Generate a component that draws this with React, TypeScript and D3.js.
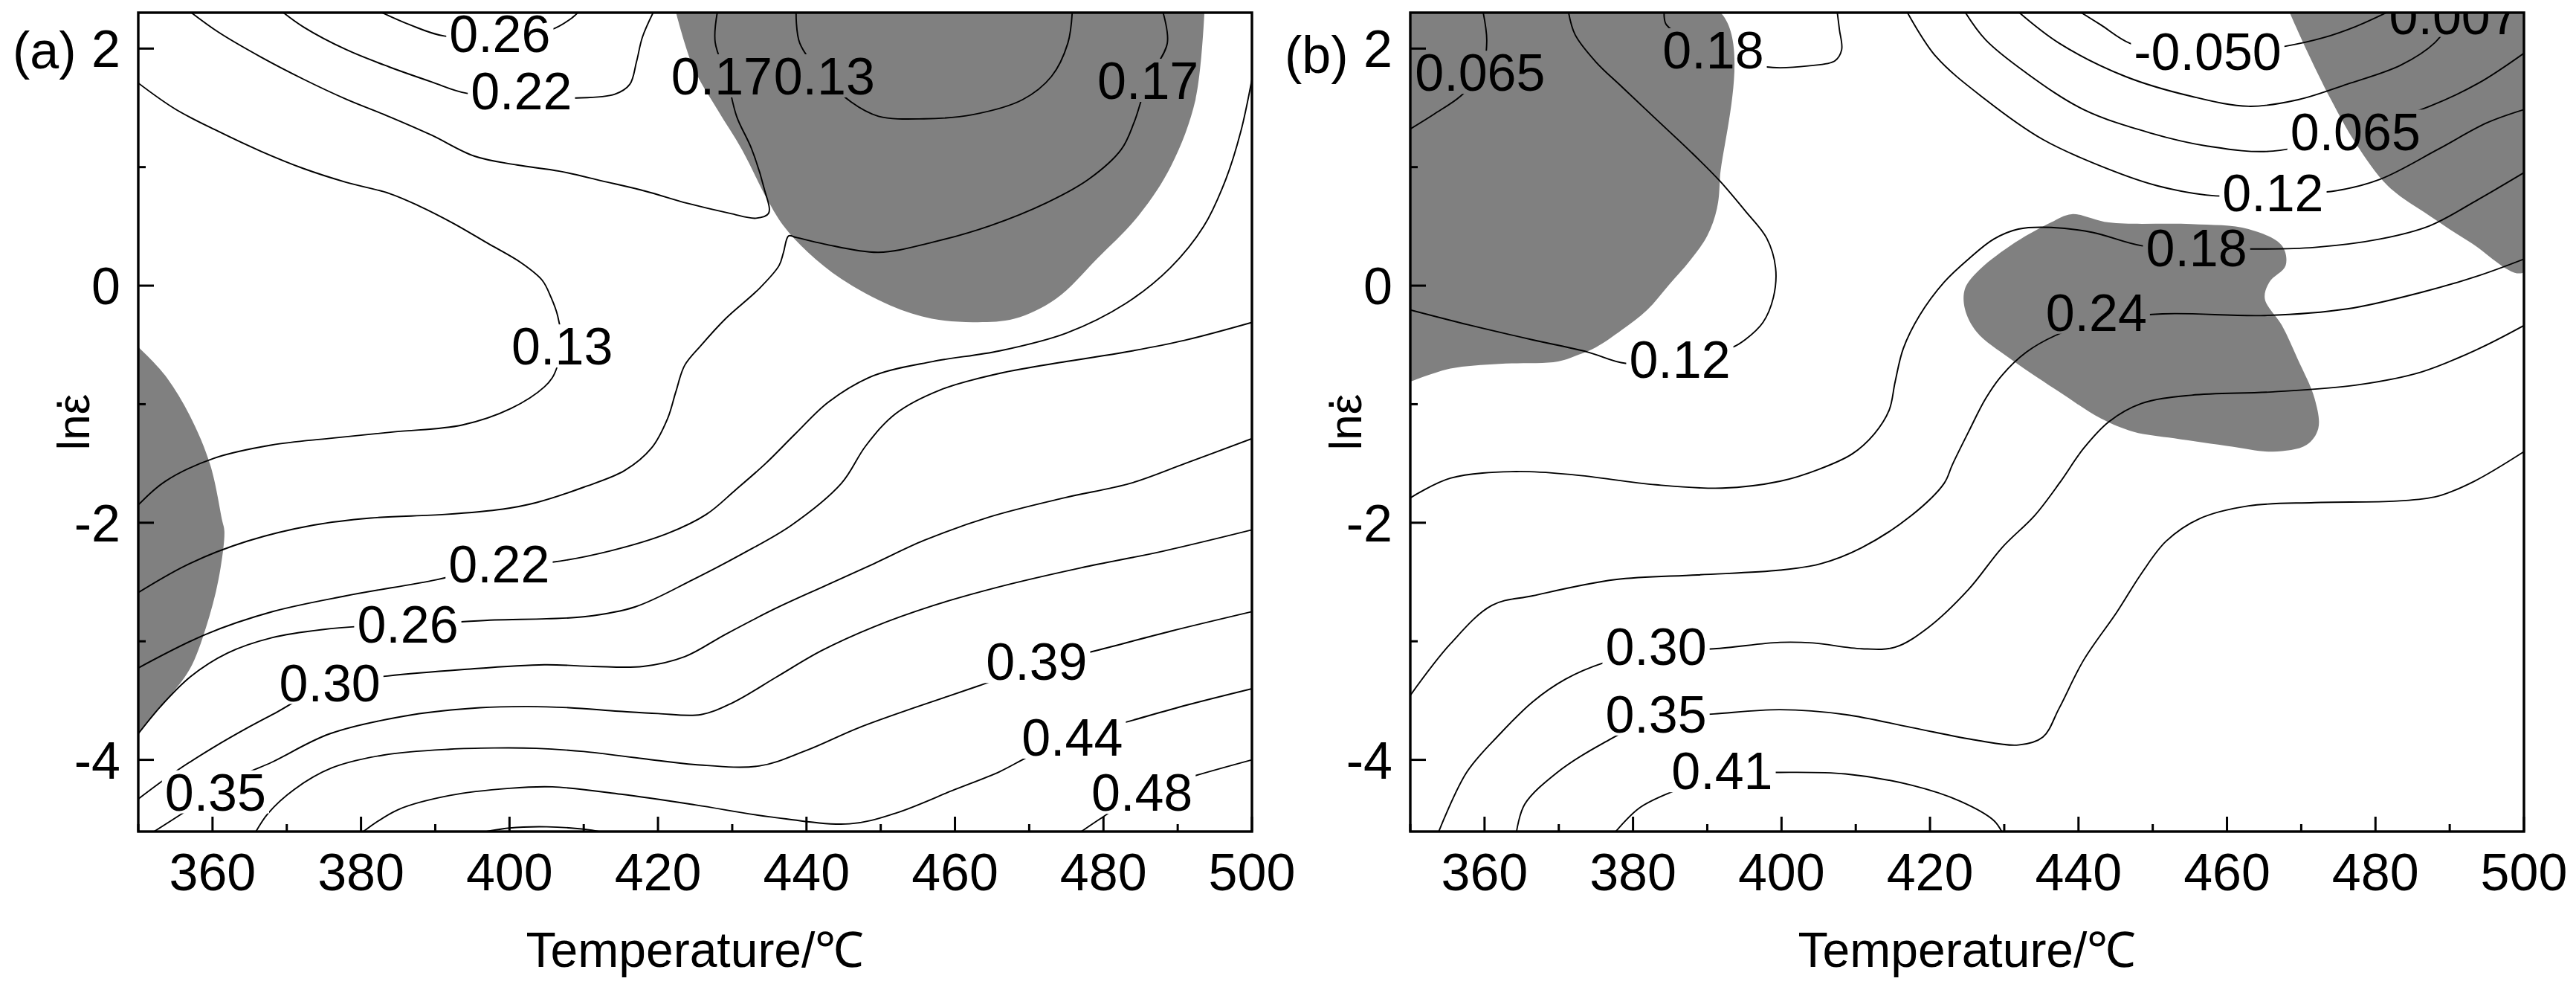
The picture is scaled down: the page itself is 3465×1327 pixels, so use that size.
import * as d3 from 'd3';

// axis setup shared by both maps
const tempDomain = [350, 500];
const rateDomain = [-4.605, 2.303];
const xMajor = [360, 380, 400, 420, 440, 460, 480, 500];
const xMinor = [350, 370, 390, 410, 430, 450, 470, 490];
const yMajor = [-4, -2, 0, 2];
const yMinor = [-3, -1, 1];

// ---- (a) contour lines, points are [T, ln strain rate]
const a026top = [[382.6, 2.31], [386.6, 2.2], [391.2, 2.106], [398.7, 2.11], [405.6, 2.159], [408.5, 2.263], [409.3, 2.31]];
const a022top = [[369.4, 2.31], [372.3, 2.18], [378, 1.991], [383.8, 1.845], [389.5, 1.719], [394.1, 1.625], [401.6, 1.6], [409, 1.583], [414.2, 1.615], [416.2, 1.698], [417.1, 1.887], [417.9, 2.096], [419.4, 2.31]];
const a017tip = [[357, 2.31], [360.8, 2.138], [366.5, 1.929], [372.3, 1.74], [378, 1.573], [383.8, 1.426], [389.5, 1.27], [395.3, 1.092], [401, 1.018], [406.7, 0.966], [412.5, 0.883], [418.2, 0.799], [424, 0.694], [429.7, 0.61], [433.2, 0.569], [434.9, 0.61], [434.3, 0.82], [432.6, 1.155], [430.6, 1.427], [429.3, 1.75], [427.7, 2.054], [428, 2.31]];
const a013 = [[350, 1.709], [355, 1.489], [360.8, 1.301], [366.5, 1.134], [372.3, 0.987], [378, 0.872], [383.8, 0.778], [387.8, 0.673], [392.4, 0.527], [397, 0.36], [401.6, 0.192], [404.4, 0.046], [405.6, -0.1], [406.5, -0.258], [407, -0.5], [406, -0.75], [404.7, -0.854], [400.2, -1.036], [393.6, -1.176], [384.7, -1.232], [375.8, -1.288], [368, -1.344], [360.2, -1.456], [353.6, -1.652], [350, -1.85]];
const a013in = [[438.6, 2.31], [439.1, 2.045], [442.4, 1.765], [446, 1.55], [449.7, 1.429], [455.8, 1.407], [462.4, 1.443], [469.1, 1.569], [473, 1.765], [475.2, 2.045], [475.8, 2.31]];
const a017 = [[488, 2.31], [488.6, 2.045], [486, 1.732], [484.1, 1.373], [482.4, 1.149], [478, 0.897], [472.4, 0.701], [464.7, 0.505], [456.9, 0.365], [449.7, 0.281], [442.4, 0.351], [438.6, 0.407], [437.6, 0.42], [436.9, 0.28], [436.3, 0.169], [433.6, -0.027], [429.1, -0.279], [425.8, -0.504], [423.6, -0.672], [422.4, -0.896], [421.3, -1.12], [419.1, -1.372], [415.5, -1.56], [410, -1.7], [403.6, -1.83], [399.1, -1.885], [391.3, -1.93], [381.3, -1.96], [373.6, -2.02], [364.7, -2.155], [356.9, -2.345], [350, -2.589]];
const a022 = [[500, 1.74], [498.5, 1.3], [496.5, 0.9], [493.5, 0.5], [489, 0.15], [483, -0.15], [475, -0.4], [466, -0.55], [457, -0.64], [449, -0.76], [443, -0.98], [438.5, -1.25], [434.5, -1.5], [430.5, -1.72], [426.5, -1.93], [421.3, -2.09], [413.6, -2.237], [405.8, -2.332], [398.6, -2.36], [390.2, -2.48], [378, -2.616], [368, -2.751], [359.1, -2.941], [350, -3.225]];
const a026 = [[350, -3.78], [353, -3.55], [357, -3.3], [362, -3.1], [368, -2.97], [375, -2.9], [381, -2.87], [386.3, -2.852], [392, -2.84], [398, -2.82], [405, -2.81], [410.2, -2.792], [416.9, -2.71], [424.7, -2.48], [431.3, -2.264], [438, -2.02], [444.7, -1.668], [448, -1.35], [452, -1.08], [458, -0.88], [466, -0.74], [475, -0.64], [483, -0.56], [491, -0.46], [500, -0.31]];
const a030 = [[350, -4.33], [355, -4.1], [360, -3.9], [365, -3.72], [368.6, -3.6], [375.8, -3.36], [383.6, -3.293], [393.6, -3.239], [404.7, -3.198], [411.3, -3.212], [418, -3.212], [423.6, -3.13], [429.1, -2.941], [435.8, -2.724], [442.4, -2.535], [449.1, -2.345], [455.8, -2.15], [464.7, -1.95], [474.7, -1.79], [483.6, -1.668], [491, -1.5], [500, -1.29]];
const a035 = [[352, -4.61], [356, -4.45], [360.4, -4.27], [364, -4.13], [368, -4.02], [375.8, -3.78], [386.9, -3.62], [396, -3.56], [402.4, -3.55], [408, -3.56], [414.7, -3.59], [420, -3.61], [425.8, -3.618], [430, -3.52], [436, -3.3], [442, -3.08], [449, -2.88], [457, -2.7], [466, -2.54], [477, -2.38], [488, -2.24], [500, -2.06]];
const a039 = [[365.8, -4.61], [367.5, -4.45], [371, -4.25], [376, -4.07], [383, -3.96], [392, -3.91], [398, -3.9], [403.6, -3.903], [410, -3.93], [418, -3.99], [425, -4.04], [433.6, -4.052], [440, -3.92], [447, -3.73], [455, -3.55], [463, -3.38], [471, -3.2], [479.1, -3.077], [489.1, -2.914], [500, -2.75]];
const a044 = [[380.2, -4.61], [385, -4.42], [392, -4.3], [400, -4.24], [405.8, -4.228], [415, -4.29], [425, -4.38], [435, -4.48], [445.8, -4.54], [452, -4.45], [460, -4.25], [466, -4.1], [470, -3.97], [475.8, -3.81], [483.6, -3.672], [491.3, -3.537], [500, -3.4]];
const a048cap = [[396.5, -4.61], [400, -4.575], [405, -4.565], [410, -4.585], [412.5, -4.61]];
const a048 = [[476.9, -4.61], [479.5, -4.5], [485.2, -4.274], [492.4, -4.133], [500, -4.0]];

const aGrayLeft = [[350, -0.518], [353.6, -0.756], [356.9, -1.092], [359.7, -1.513], [361.3, -1.98], [361.6, -2.074], [360.8, -2.48], [359.1, -2.887], [356.9, -3.239], [353.6, -3.51], [350, -3.78]];
const aGrayTop = [[422.4, 2.31], [424.7, 1.85], [428, 1.485], [431.3, 1.149], [434.7, 0.729], [436.9, 0.505], [440.2, 0.281], [444.7, 0.057], [451.3, -0.167], [456.9, -0.279], [462.4, -0.308], [468, -0.279], [473.6, -0.111], [479.1, 0.225], [484.7, 0.589], [489.1, 1.009], [492.4, 1.569], [493.6, 2.31]];

const aLabels = [
  ['0.26', 398.7, 2.13], ['0.22', 401.6, 1.646], ['0.17', 428.6, 1.77], ['0.13', 442.4, 1.77],
  ['0.17', 486, 1.732], ['0.13', 407.1, -0.509], ['0.22', 398.6, -2.345], ['0.26', 386.3, -2.852],
  ['0.30', 375.8, -3.347], ['0.35', 360.4, -4.27], ['0.39', 471, -3.17], ['0.44', 475.8, -3.808],
  ['0.48', 485.2, -4.274],
];

// ---- (b) contour lines
const b0065L = [[359.8, 2.31], [360.3, 2.06], [359.6, 1.8], [356.8, 1.6], [353.2, 1.447], [350, 1.322]];
const b012L = [[371.3, 2.31], [372.2, 2.117], [375, 1.887], [378.5, 1.677], [383.1, 1.405], [387.7, 1.134], [391.7, 0.882], [395.1, 0.632], [398, 0.401], [399.2, 0.15], [398.9, -0.101], [397.5, -0.31], [395.1, -0.456], [393.4, -0.52], [386.3, -0.62], [379, -0.655], [373.9, -0.56], [366.4, -0.456], [357.8, -0.33], [350, -0.205]];
const b018top = [[384.2, 2.31], [384.5, 2.2], [390.8, 1.99], [398, 1.845], [403.8, 1.855], [407.2, 1.897], [408.1, 1.99], [407.8, 2.16], [407.5, 2.31]];
const bm0050 = [[440.2, 2.31], [443, 2.2], [446.9, 2.045], [452, 1.98], [457.4, 1.96], [463, 1.98], [467.9, 2.02], [472.9, 2.09], [477.3, 2.185], [481.7, 2.31]];
const b0007 = [[431.9, 2.31], [437.4, 2.045], [446.3, 1.765], [455.2, 1.597], [462.9, 1.513], [469.6, 1.569], [476.2, 1.7], [483.4, 1.86], [488, 2.05], [491, 2.31]];
const b0065R = [[424.7, 2.31], [427.5, 2.073], [433, 1.793], [440.7, 1.485], [449.6, 1.289], [457.4, 1.177], [466.2, 1.135], [477, 1.3], [487.3, 1.513], [493.9, 1.709], [500, 1.961]];
const b012R = [[416.9, 2.31], [420.8, 1.933], [427.5, 1.569], [435.2, 1.233], [444.1, 0.981], [450.7, 0.841], [458.5, 0.757], [466.2, 0.77], [474.5, 0.799], [480.6, 0.897], [488.4, 1.149], [495, 1.373], [500, 1.485]];
const b018 = [[500, 0.953], [493.9, 0.729], [487.3, 0.505], [480.6, 0.393], [471.8, 0.323], [463.5, 0.309], [455.9, 0.32], [448.5, 0.337], [441.9, 0.449], [436.3, 0.491], [431.9, 0.477], [428.6, 0.393], [425.2, 0.225], [421.9, 0.029], [418.6, -0.251], [416.4, -0.531], [415.3, -0.812], [414.5, -1.05], [412.5, -1.25], [409.5, -1.42], [405, -1.55], [399.8, -1.65], [392, -1.708], [383.1, -1.68], [372, -1.596], [364.3, -1.568], [355.4, -1.624], [350, -1.79]];
const b024 = [[500, 0.224], [493.9, 0.084], [486.2, -0.056], [476.2, -0.196], [465.1, -0.252], [451.3, -0.238], [442.4, -0.3], [436.9, -0.42], [433, -0.56], [429.7, -0.756], [427.5, -0.952], [425.2, -1.232], [423, -1.512], [421.9, -1.668], [417.5, -1.939], [410.8, -2.21], [405.3, -2.345], [399.8, -2.4], [388.7, -2.44], [377.6, -2.48], [366.5, -2.616], [361, -2.697], [355.4, -3.022], [350, -3.456]];
const b030 = [[353.8, -4.61], [357.6, -4.105], [362.1, -3.78], [366.5, -3.51], [370.9, -3.32], [375.9, -3.185], [383.1, -3.08], [390.9, -3.063], [399.8, -3.009], [404.2, -3.014], [410.8, -3.063], [415.3, -3.05], [419.7, -2.887], [425.2, -2.562], [429.7, -2.21], [434.1, -1.939], [437.5, -1.66], [440.7, -1.372], [444.1, -1.148], [448.5, -0.994], [455.2, -0.924], [466.2, -0.896], [477.3, -0.84], [486.2, -0.728], [493.9, -0.532], [500, -0.336]];
const b035 = [[364.3, -4.61], [365.4, -4.376], [369.8, -4.106], [375.9, -3.862], [383.1, -3.65], [390.9, -3.613], [399.8, -3.577], [408.6, -3.618], [417.5, -3.727], [426.3, -3.835], [431.9, -3.875], [435.2, -3.808], [437.4, -3.564], [440.7, -3.158], [445.2, -2.751], [448.5, -2.426], [451.8, -2.156], [456.3, -1.966], [462.9, -1.858], [471.8, -1.83], [482.9, -1.817], [488.4, -1.776], [493.3, -1.65], [500, -1.4]];
const b041 = [[377.6, -4.61], [380.9, -4.404], [385.3, -4.268], [392, -4.12], [399.8, -4.106], [408.6, -4.119], [417.5, -4.214], [424.1, -4.35], [428.6, -4.512], [429.7, -4.61]];

const bGrayLeft = [[350, 2.31], [391.7, 2.31], [391.7, 0.9], [391.3, 0.65], [390, 0.42], [387.7, 0.213], [384.8, 0.004], [381.9, -0.205], [378.5, -0.373], [375, -0.52], [372.7, -0.582], [369.9, -0.64], [362, -0.66], [355.4, -0.7], [350, -0.81]];
const bGrayMid = [[439.1, 0.603], [444.1, 0.533], [455.2, 0.519], [462.9, 0.477], [467.4, 0.337], [467.9, 0.169], [465.7, 0.029], [465.1, -0.111], [467.4, -0.336], [469.5, -0.616], [471.8, -0.952], [472.3, -1.204], [470.7, -1.344], [466.2, -1.4], [460.7, -1.358], [452.9, -1.288], [447.4, -1.232], [443, -1.12], [437.4, -0.896], [430.8, -0.616], [426.3, -0.392], [424.7, -0.196], [424.7, -0.028], [426.3, 0.112], [430.8, 0.336], [436.3, 0.533]];
const bGrayRight = [[468.4, 2.31], [470.7, 1.99], [474, 1.57], [477.3, 1.205], [481.7, 0.84], [487.3, 0.589], [492.8, 0.365], [500, 0.113], [500, 2.31]];

const bLabels = [
  ['0.065', 359.4, 1.8], ['0.18', 390.8, 1.99], ['-0.050', 457.4, 1.975], ['0.007', 490.6, 2.28],
  ['0.065', 477.3, 1.303], ['0.12', 466.2, 0.785], ['0.18', 455.9, 0.323], ['0.24', 442.4, -0.224],
  ['0.12', 386.3, -0.62], ['0.30', 383.1, -3.04], ['0.35', 383.1, -3.613], ['0.41', 392, -4.092],
];

const FONT = 'Liberation Sans, Arial, sans-serif';
const plotTop = 17;
const plotBottom = 1118;
const plotW = 1498;

// rough Arial advance widths, used to cut the lines under a label
function labelWidth(s, size) {
  let w = 0;
  for (const c of s) w += c === '.' ? 0.278 : c === '-' ? 0.333 : 0.556;
  return w * size;
}

function Panel({ id, left, lines, grays, closedGrays, labels, tag, tagY }) {
  const x = d3.scaleLinear().domain(tempDomain).range([left, left + plotW]);
  const y = d3.scaleLinear().domain(rateDomain).range([plotBottom, plotTop]);
  const line = d3.line().x(d => x(d[0])).y(d => y(d[1])).curve(d3.curveCatmullRom.alpha(0.5));
  const closed = d3.line().x(d => x(d[0])).y(d => y(d[1])).curve(d3.curveCatmullRomClosed.alpha(0.5));
  const fs = 70;

  return (
    <g>
      <defs>
        <clipPath id={`clip-${id}`}>
          <rect x={left} y={plotTop} width={plotW} height={plotBottom - plotTop} />
        </clipPath>
        <mask id={`mask-${id}`} maskUnits="userSpaceOnUse" x={0} y={0} width={3465} height={1327}>
          <rect x={0} y={0} width={3465} height={1327} fill="white" />
          {labels.map((l, i) => {
            const w = labelWidth(l[0], fs) + 8;
            return <rect key={i} x={x(l[1]) - w / 2} y={y(l[2]) - 29} width={w} height={58} fill="black" />;
          })}
        </mask>
      </defs>

      <g clipPath={`url(#clip-${id})`}>
        {grays.map((g, i) => <path key={i} d={line(g) + 'Z'} fill="#808080" />)}
        {closedGrays.map((g, i) => <path key={'c' + i} d={closed(g)} fill="#808080" />)}
        <g mask={`url(#mask-${id})`}>
          {lines.map((l, i) => <path key={i} d={line(l)} fill="none" stroke="#000" strokeWidth={1.9} />)}
        </g>
        {labels.map((l, i) => (
          <text key={i} x={x(l[1])} y={y(l[2])} dy="0.36em" textAnchor="middle" fontSize={fs} fontFamily={FONT} fill="#000">{l[0]}</text>
        ))}
      </g>

      {/* frame */}
      <rect x={left} y={plotTop} width={plotW} height={plotBottom - plotTop} fill="none" stroke="#000" strokeWidth={3.4} />

      {/* ticks point inward */}
      {xMajor.map(v => <line key={'xM' + v} x1={x(v)} x2={x(v)} y1={plotBottom} y2={plotBottom - 20} stroke="#000" strokeWidth={3} />)}
      {xMinor.map(v => <line key={'xm' + v} x1={x(v)} x2={x(v)} y1={plotBottom} y2={plotBottom - 10} stroke="#000" strokeWidth={3} />)}
      {yMajor.map(v => <line key={'yM' + v} x1={left} x2={left + 21} y1={y(v)} y2={y(v)} stroke="#000" strokeWidth={3} />)}
      {yMinor.map(v => <line key={'ym' + v} x1={left} x2={left + 10} y1={y(v)} y2={y(v)} stroke="#000" strokeWidth={3} />)}

      {xMajor.map(v => (
        <text key={'xl' + v} x={x(v)} y={1197} textAnchor="middle" fontSize={70} fontFamily={FONT}>{v}</text>
      ))}
      {yMajor.map(v => (
        <text key={'yl' + v} x={left - 24} y={y(v) + 25} textAnchor="end" fontSize={70} fontFamily={FONT}>{v}</text>
      ))}

      <text x={left + plotW / 2} y={1300} textAnchor="middle" fontSize={66} fontFamily={FONT}>Temperature/℃</text>
      <text transform={`translate(${left - 66},${(plotTop + plotBottom) / 2}) rotate(-90)`} textAnchor="middle" fontSize={62} fontFamily={FONT}>
        lnε<tspan dx="-0.37em" dy="-0.6em">.</tspan><tspan dy="0.6em" dx="0.1em"> </tspan>
      </text>
      <text x={left - 169} y={tagY} fontSize={70} fontFamily={FONT}>{tag}</text>
    </g>
  );
}

export default function App() {
  return (
    <svg width={3465} height={1327} style={{ position: 'absolute', left: 0, top: 0, background: '#fff' }}>
      <rect width={3465} height={1327} fill="#fff" />
      <Panel
        id="a"
        left={186}
        lines={[a026top, a022top, a017tip, a013, a013in, a017, a022, a026, a030, a035, a039, a044, a048cap, a048]}
        grays={[aGrayLeft, aGrayTop]}
        closedGrays={[]}
        labels={aLabels}
        tag="(a)"
        tagY={92}
      />
      <Panel
        id="b"
        left={1897}
        lines={[b0065L, b012L, b018top, bm0050, b0007, b0065R, b012R, b018, b024, b030, b035, b041]}
        grays={[bGrayLeft, bGrayRight]}
        closedGrays={[bGrayMid]}
        labels={bLabels}
        tag="(b)"
        tagY={98}
      />
    </svg>
  );
}
